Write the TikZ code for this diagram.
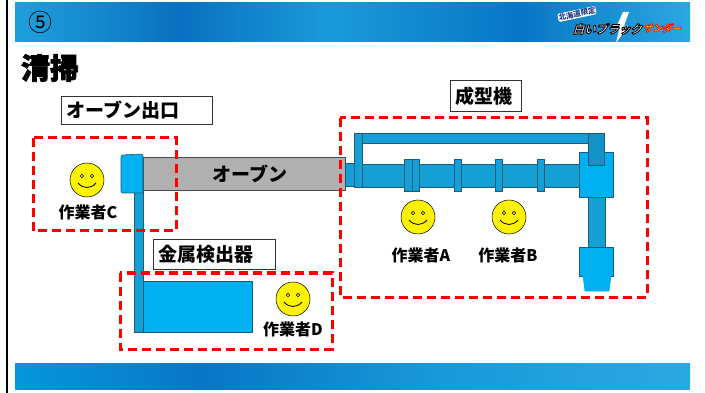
\documentclass[tikz,border=0pt]{standalone}
\usepackage{fontspec}
\newfontfamily\jp{Noto Sans CJK JP}
\newfontfamily\jpheavy[FakeBold=2.5]{Noto Sans CJK JP}
\usetikzlibrary{positioning}

\definecolor{pipeblue}{RGB}{20,159,213}
\definecolor{partblue}{RGB}{0,176,240}
\definecolor{topblue}{RGB}{17,147,200}
\definecolor{pipeline}{RGB}{30,90,125}
\definecolor{ovengray}{RGB}{176,176,176}
\definecolor{bandA}{RGB}{30,160,220}
\definecolor{bandB}{RGB}{10,112,192}
\definecolor{bandC}{RGB}{25,155,218}
\definecolor{bandD}{RGB}{8,118,196}
\definecolor{bandE}{RGB}{42,168,226}
\definecolor{bandF}{RGB}{5,152,216}
\definecolor{logoblue}{RGB}{30,60,140}
\definecolor{logoyellow}{RGB}{255,222,0}

% outlined letters (fill + stroke)
\newcommand\outlined[2]{\special{pdf:literal direct 2 Tr #1 w #2 RG}}
\newcommand\plainletters{\special{pdf:literal direct 0 Tr}}

\tikzset{
  pipe/.style={draw=pipeline,fill=pipeblue,line width=0.6pt},
  part/.style={draw=pipeline,fill=partblue,line width=0.6pt},
  area/.style={draw=red,line width=3pt,dash pattern=on 9pt off 5pt},
  labelbox/.style={draw=black!80,line width=0.8pt,fill=white,anchor=north west,
    inner xsep=5pt,inner ysep=0pt,align=left,font=\jp\bfseries\fontsize{19}{19}\selectfont},
  worker/.style={font=\jp\bfseries\fontsize{16}{16}\selectfont},
  smiley/.pic={
    \draw[fill=yellow,line width=0.5pt] (0,0) circle (17);
    \draw[line width=0.5pt] (-5,-4) circle (1.8) (5,-4) circle (1.8);
    \draw[line width=0.8pt] (-9,3) .. controls (-4,9) and (4,9) .. (9,3);
  }
}

\begin{document}
\begin{tikzpicture}[x=1pt,y=-1pt]
\useasboundingbox (0,0) rectangle (705,393);
\fill[white] (0,0) rectangle (705,393);
\draw[line width=1.5pt] (7,0)--(7,393);

% banners
\foreach \xa/\xb/\ca/\cb in {15/180/bandA/bandB,180/330/bandB/bandC,330/520/bandC/bandD,520/690/bandD/bandE}
  \shade[left color=\ca,right color=\cb] (\xa,3) rectangle (\xb,42);
\foreach \xa/\xb/\ca/\cb in {15/200/bandF/bandD,200/450/bandD/bandC,450/690/bandC/bandE}
  \shade[left color=\ca,right color=\cb] (\xa,363) rectangle (\xb,389);

\node[font=\jp\fontsize{24}{24}\selectfont] (num) at (40,22) {⑤};

% logo
\fill[white] (623,12)--(629,12)--(624,26)--(628,26)--(616,43)--(619,30)--(615,30)--cycle;
\node[font=\jp\bfseries\fontsize{7.5}{7.5}\selectfont,text=logoblue,fill=white,rounded corners=2pt,
  inner sep=0.6pt,rotate=12] (region) at (577,14) {北海道限定};
\node[font=\jp\bfseries\fontsize{11.5}{11.5}\selectfont,text=white,xslant=0.3] (brand) at (608.5,29)
  {\outlined{0.9}{0 0 0}白いブラック\plainletters};
\node[font=\jp\bfseries\fontsize{9.5}{9.5}\selectfont,text=logoyellow,xslant=0.3] (thunder) at (663,28)
  {\outlined{0.7}{1 0 0}サンダー\plainletters};

\node[font=\jpheavy\bfseries\fontsize{29}{29}\selectfont] (topic) at (50,68) {清掃};

% oven line
\draw[pipe] (134,190) rectangle (143,332);
\draw[part] (143,281) rectangle (252,332);
\node[draw=black!70,line width=0.6pt,fill=ovengray,minimum width=202,minimum height=33,
  anchor=north west,inner sep=0pt,font=\jp\bfseries\fontsize{19}{19}\selectfont] (oven) at (143,157) {\hspace{12pt}オーブン};
\draw[part,rounded corners=2pt] (121,155)--(143,154)--(143,193)--(121,193)--cycle;

% molding machine
\draw[pipe] (345,163) rectangle (355,186);
\draw[pipe] (354,133) rectangle (590,143);
\draw[pipe] (354,133) rectangle (362,187);
\draw[pipe] (362,164) rectangle (580,187);
\foreach \xa/\xb in {404/412,412/419,454/461,495/502,537/544}
  \draw[pipe] (\xa,159) rectangle (\xb,191);
\draw[pipe] (588,196) rectangle (605,248);
\draw[part] (579,152) rectangle (613,197);
\draw[pipe,fill=topblue] (588,133) rectangle (604,165);
\draw[part] (579,247) rectangle (613,276);
\draw[part,draw=partblue] (583,276)--(611,276)--(609,291)--(585,291)--cycle;

% areas
\draw[area] (33,138) rectangle (176,231);
\draw[area] (120,273) rectangle (332,349);
\draw[area] (340,118) rectangle (647,297);

\node[labelbox,text width=141,minimum height=28] (exit) at (61,96) {オーブン出口};
\node[labelbox,text width=112,minimum height=30] (detector) at (153,239) {金属検出器};
\node[labelbox,text width=61,minimum height=31] (molder) at (450,80) {成型機};

% workers
\pic at (87,180) {smiley};
\pic at (418,217) {smiley};
\pic at (509,217) {smiley};
\pic at (293,299) {smiley};
\node[worker] (wc) at (88,212) {作業者C};
\node[worker] (wa) at (421,255) {作業者A};
\node[worker] (wb) at (508,255) {作業者B};
\node[worker] (wd) at (293,329) {作業者D};
\end{tikzpicture}
\end{document}
